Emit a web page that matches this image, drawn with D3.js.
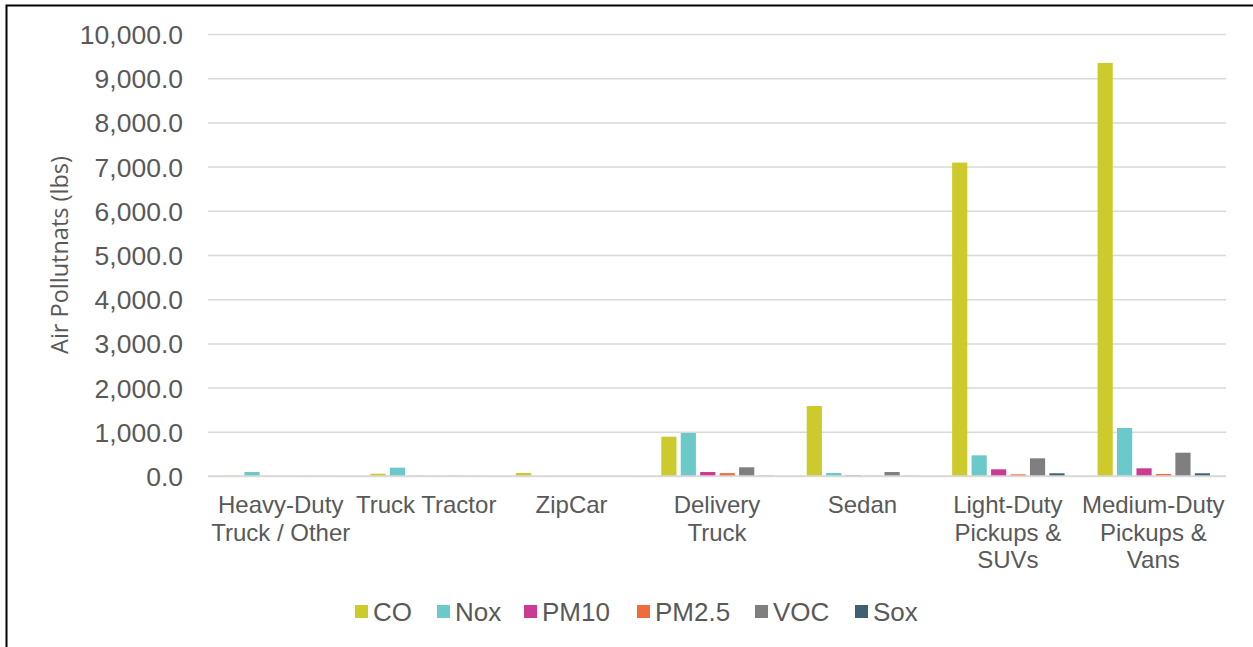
<!DOCTYPE html>
<html>
<head>
<meta charset="utf-8">
<script src="https://cdn.jsdelivr.net/npm/d3@7"></script>
<style>
  html, body { margin: 0; padding: 0; background: #fff; }
  svg { display: block; }
</style>
</head>
<body>
<svg id="chart" width="1253" height="647"></svg>
<script>
// ---- data ----
const categories = ["Heavy-Duty Truck / Other", "Truck Tractor", "ZipCar", "Delivery Truck", "Sedan", "Light-Duty Pickups & SUVs", "Medium-Duty Pickups & Vans"];
const categoryLines = [["Heavy-Duty", "Truck / Other"], ["Truck Tractor"], ["ZipCar"], ["Delivery", "Truck"], ["Sedan"], ["Light-Duty", "Pickups &", "SUVs"], ["Medium-Duty", "Pickups &", "Vans"]];
const seriesNames = ["CO", "Nox", "PM10", "PM2.5", "VOC", "Sox"];
const CO   = [8, 52, 68, 889, 1584, 7090, 9344];
const Nox  = [90, 188, 0, 973, 68, 468, 1086];
const PM10 = [2, 5, 1, 90, 15, 151, 174];
const PM25 = [2, 4, 1, 65, 8, 38, 45];
const VOC  = [3, 6, 2, 197, 90, 400, 527];
const Sox  = [1, 2, 1, 8, 5, 61, 61];
const yTicks = [0, 1000, 2000, 3000, 4000, 5000, 6000, 7000, 8000, 9000, 10000];
const colors = ["#cdca2c", "#6bc9c9", "#cc3a93", "#f26b3a", "#7f7f7f", "#3f5f75"];

const seriesValues = [CO, Nox, PM10, PM25, VOC, Sox];

// ---- layout ----
const svg = d3.select("#chart");
const plotLeft = 208, plotRight = 1226, plotTop = 34, plotBottom = 476;
const textColor = "#595959";
const font = "'Liberation Sans', Arial, sans-serif";

// frame
svg.append("path")
  .attr("d", "M6.5,647 L6.5,5.5 L1253,5.5")
  .attr("fill", "none").attr("stroke", "#000").attr("stroke-width", 2);

const x0 = d3.scaleBand().domain(categories).range([plotLeft, plotRight]).paddingInner(0).paddingOuter(0);
const x1 = d3.scaleBand().domain(seriesNames).range([17, x0.bandwidth() - 16]).paddingInner(0.22).paddingOuter(0);
const y = d3.scaleLinear().domain([0, 10000]).range([plotBottom, plotTop]);

// gridlines
const yAxis = d3.axisLeft(y).tickValues(yTicks)
  .tickFormat(d3.format(",.1f"))
  .tickSize(-(plotRight - plotLeft)).tickPadding(25);
const gy = svg.append("g").attr("transform", `translate(${plotLeft},0)`).call(yAxis);
gy.select(".domain").remove();
gy.selectAll(".tick line").attr("stroke", "#d9d9d9").attr("stroke-width", 1.5);
gy.selectAll(".tick text")
  .attr("fill", textColor).attr("font-family", font).attr("font-size", 26.5)
  .attr("dy", "0.36em");

// bars
const groups = svg.append("g").selectAll("g")
  .data(categories).join("g")
  .attr("transform", d => `translate(${x0(d)},0)`);
groups.selectAll("rect")
  .data((d, i) => seriesNames.map((s, j) => ({ s, j, v: seriesValues[j][i] })))
  .join("rect")
  .attr("x", d => x1(d.s))
  .attr("width", x1.bandwidth())
  .attr("y", d => y(d.v))
  .attr("height", d => y(0) - y(d.v))
  .attr("fill", d => colors[d.j]);

// x-axis baseline
svg.append("line").attr("x1", plotLeft).attr("x2", plotRight).attr("y1", y(0)).attr("y2", y(0))
  .attr("stroke", "#d9d9d9").attr("stroke-width", 1.5);

// x labels
const xl = svg.append("g");
categories.forEach((c, i) => {
  const cx = x0(c) + x0.bandwidth() / 2;
  const t = xl.append("text")
    .attr("x", cx).attr("y", 513)
    .attr("text-anchor", "middle")
    .attr("fill", textColor).attr("font-family", font).attr("font-size", 24);
  categoryLines[i].forEach((ln, k) => {
    t.append("tspan").attr("x", cx).attr("dy", k === 0 ? 0 : 27.5).text(ln);
  });
});

// y title
svg.append("text")
  .attr("transform", "translate(68,255) rotate(-90)")
  .attr("text-anchor", "middle")
  .attr("fill", textColor).attr("font-family", "'Open Sans', sans-serif").attr("font-size", 23.5)
  .text("Air Pollutnats (lbs)");

// legend
const legendX = [355, 437, 524, 637, 755, 855];
const lg = svg.append("g");
seriesNames.forEach((s, j) => {
  lg.append("rect").attr("x", legendX[j]).attr("y", 605).attr("width", 13).attr("height", 13).attr("fill", colors[j]);
  lg.append("text").attr("x", legendX[j] + 18).attr("y", 621)
    .attr("fill", textColor).attr("font-family", font).attr("font-size", 26).text(s);
});
</script>
</body>
</html>
